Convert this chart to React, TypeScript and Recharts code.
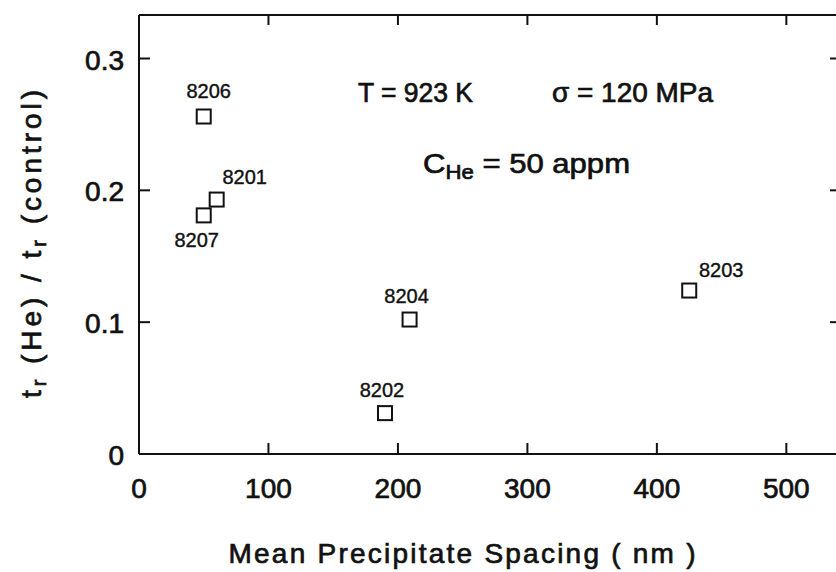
import React from "react";
import { ScatterChart, Scatter, XAxis, YAxis } from "recharts";

// specimen data
const specimens = ["8206", "8201", "8207", "8204", "8202", "8203"];
const spacing = [50, 60, 50, 209, 190, 425];
const ratio = [0.256, 0.193, 0.181, 0.102, 0.031, 0.124];

const xTicks = [0, 100, 200, 300, 400, 500];
const yTicks = [0, 0.1, 0.2, 0.3];
const topTicks = [100, 200, 300, 400, 500];
const rightTicks = [0.1, 0.2, 0.3];

// where each specimen number sits relative to its marker (px)
const labelOffset: Record<string, [number, number]> = {
  "8206": [5, -19],
  "8201": [28, -16],
  "8207": [-7, 32],
  "8204": [-3, -17],
  "8202": [-3, -16],
  "8203": [32, -14],
};

const INK = "#111";
const FONT = "'Liberation Sans', Arial, sans-serif";
// a thin outline to give the text the heavier look of the scan
const heavy = { stroke: INK, strokeWidth: 0.7 };

const rows = specimens.map((id, i) => ({ id, x: spacing[i], y: ratio[i] }));

const BottomTick = ({ x, y, payload }: any) => (
  <g>
    {payload.value !== 0 && (
      <line x1={x} y1={y} x2={x} y2={y - 11} stroke={INK} strokeWidth={2} />
    )}
    <text x={x} y={y + 44} textAnchor="middle" fontSize={28} fontFamily={FONT} fill={INK} {...heavy}>
      {payload.value}
    </text>
  </g>
);

const LeftTick = ({ x, y, payload }: any) => (
  <g>
    {payload.value !== 0 && (
      <line x1={x} y1={y} x2={x + 11} y2={y} stroke={INK} strokeWidth={2} />
    )}
    <text x={x - 15} y={y + 11} textAnchor="end" fontSize={28} fontFamily={FONT} fill={INK} {...heavy}>
      {payload.value === 0 ? "0" : payload.value.toFixed(1)}
    </text>
  </g>
);

const TopTick = ({ x, y }: any) => (
  <line x1={x} y1={y} x2={x} y2={y + 10} stroke={INK} strokeWidth={2} />
);

const RightTick = ({ x, y }: any) => (
  <line x1={x} y1={y} x2={x - 12} y2={y} stroke={INK} strokeWidth={2} />
);

const SquareMarker = ({ cx, cy, payload }: any) => {
  const [dx, dy] = labelOffset[payload.id] || [0, -16];
  return (
    <g>
      <rect x={cx - 7} y={cy - 7} width={14} height={14} fill="#fff" stroke={INK} strokeWidth={2} />
      <text
        x={cx + dx}
        y={cy + dy}
        textAnchor="middle"
        fontSize={20}
        fontFamily={FONT}
        fill={INK}
        stroke={INK}
        strokeWidth={0.4}
      >
        {payload.id}
      </text>
    </g>
  );
};

const W = 856;
const H = 572;

export default function App() {
  return (
    <div style={{ position: "relative", width: 836, height: H, overflow: "hidden", background: "#fff" }}>
      <style>{"body { margin: 0; overflow: hidden; }"}</style>
      <ScatterChart width={W} height={H} margin={{ top: 14, right: 13, bottom: 10, left: 0 }}>
        <XAxis
          type="number"
          dataKey="x"
          domain={[0, 543]}
          ticks={xTicks}
          allowDataOverflow
          height={108}
          tickSize={0}
          tickMargin={0}
          tickLine={false}
          axisLine={{ stroke: INK, strokeWidth: 2 }}
          tick={BottomTick}
        />
        <XAxis
          xAxisId="top"
          orientation="top"
          type="number"
          dataKey="x"
          domain={[0, 543]}
          ticks={topTicks}
          allowDataOverflow
          height={1}
          tickSize={0}
          tickMargin={0}
          tickLine={false}
          axisLine={{ stroke: INK, strokeWidth: 2 }}
          tick={TopTick}
        />
        <YAxis
          type="number"
          dataKey="y"
          domain={[0, 0.333]}
          ticks={yTicks}
          allowDataOverflow
          width={139}
          tickSize={0}
          tickMargin={0}
          tickLine={false}
          axisLine={{ stroke: INK, strokeWidth: 2 }}
          tick={LeftTick}
        />
        <YAxis
          yAxisId="right"
          orientation="right"
          type="number"
          dataKey="y"
          domain={[0, 0.333]}
          ticks={rightTicks}
          allowDataOverflow
          width={1}
          tickSize={0}
          tickMargin={0}
          tickLine={false}
          axisLine={{ stroke: INK, strokeWidth: 2 }}
          tick={RightTick}
        />
        <Scatter data={rows} shape={SquareMarker} isAnimationActive={false} />
        {/* invisible twin series so the top and right frame axes get laid out */}
        <Scatter
          data={rows}
          xAxisId="top"
          yAxisId="right"
          shape={() => <g />}
          isAnimationActive={false}
        />
      </ScatterChart>

      <svg
        width={836}
        height={H}
        style={{ position: "absolute", left: 0, top: 0, pointerEvents: "none", whiteSpace: "pre" }}
        fontFamily={FONT}
        fill={INK}
        stroke={INK}
        strokeWidth={0.7}
      >
        <text x={358} y={102} fontSize={28} textLength={115} lengthAdjust="spacingAndGlyphs">
          T = 923 K
        </text>
        <text x={552} y={102} fontSize={28} textLength={161} lengthAdjust="spacingAndGlyphs">
          σ = 120 MPa
        </text>
        <text x={423} y={173} fontSize={28} textLength={207} lengthAdjust="spacingAndGlyphs">
          C
          <tspan fontSize={20} dy={6}>He</tspan>
          <tspan dy={-6}> = 50 appm</tspan>
        </text>
        <text x={462} y={563} fontSize={28} textAnchor="middle" textLength={467} lengthAdjust="spacing">
          {"Mean  Precipitate  Spacing  ( nm )"}
        </text>
        <text
          transform="translate(41, 244) rotate(-90)"
          x={0}
          y={0}
          fontSize={28}
          textAnchor="middle"
          textLength={308}
          lengthAdjust="spacing"
        >
          t<tspan fontSize={20} dy={5}>r</tspan>
          <tspan dy={-5}> (He) / t</tspan>
          <tspan fontSize={20} dy={5}>r</tspan>
          <tspan dy={-5}> (control)</tspan>
        </text>
      </svg>
    </div>
  );
}
